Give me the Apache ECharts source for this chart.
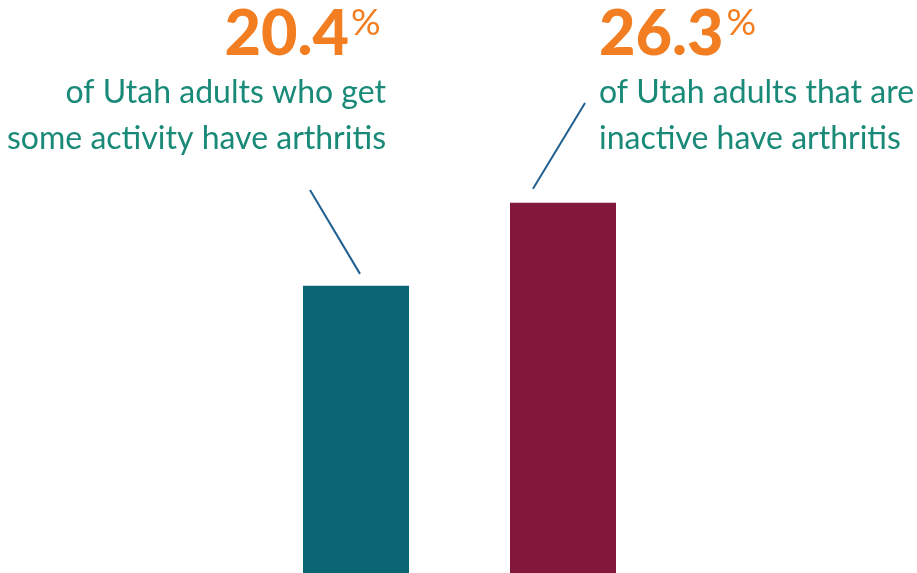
<!DOCTYPE html>
<html><head><meta charset="utf-8">
<script src="https://cdn.jsdelivr.net/npm/echarts@6/dist/echarts.min.js"></script>
<style>html,body{margin:0;padding:0;background:#fff}#c{width:917px;height:573px}</style>
</head><body><div id="c"></div>
<script>
const categories = ['Some activity', 'Inactive'];
const values = [20.4, 26.3];
const valueLabels = ['20.4', '26.3'];
const descriptions = [
  ['of Utah adults who get', 'some activity have arthritis'],
  ['of Utah adults that are', 'inactive have arthritis']
];
const barColors = ['#0b6674', '#83163b'];

const chart = echarts.init(document.getElementById('c'), null, {renderer: 'canvas'});
chart.setOption({
  animation: false,
  grid: {left: 252.5, width: 207 * 2, top: 10, bottom: 0},
  xAxis: {type: 'category', data: categories, show: false},
  yAxis: {type: 'value', min: 0, max: 40, show: false},
  series: [{
    type: 'bar', barWidth: 106,
    data: values.map((v, i) => ({value: v, itemStyle: {color: barColors[i]}}))
  }]
});

const p0 = chart.convertToPixel({seriesIndex: 0}, [0, values[0]]);
const p1 = chart.convertToPixel({seriesIndex: 0}, [1, values[1]]);
const orange = '#f37e21', teal = '#1a8a78', lineC = '#1f5f8f';
const bigFont = {family: 'Lato', weight: 900, size: 63};
const cvs = document.createElement('canvas').getContext('2d');
cvs.font = bigFont.weight + ' ' + bigFont.size + 'px Lato';
const w1 = cvs.measureText(valueLabels[1]).width;
const big = {fontFamily: bigFont.family, fontWeight: bigFont.weight, fontSize: bigFont.size, fill: orange, verticalAlign: 'top'};
const pct = {fontFamily: 'Lato', fontWeight: 400, fontSize: 37, fill: orange, verticalAlign: 'top'};
const desc = {fontFamily: 'Lato', fontWeight: 400, fontSize: 32, fill: teal, verticalAlign: 'top'};
const g = [];
g.push({type: 'text', x: 349, y: 3, style: Object.assign({text: valueLabels[0], align: 'right'}, big)});
g.push({type: 'text', x: 351, y: 5, style: Object.assign({text: '%', align: 'left'}, pct)});
g.push({type: 'text', x: 599, y: 3, style: Object.assign({text: valueLabels[1], align: 'left'}, big)});
g.push({type: 'text', x: 599 + w1 + 3, y: 5, style: Object.assign({text: '%', align: 'left'}, pct)});
descriptions[0].forEach((t, i) => g.push({type: 'text', x: 386, y: 77 + i * 46, style: Object.assign({text: t, align: 'right'}, desc)}));
descriptions[1].forEach((t, i) => g.push({type: 'text', x: 599, y: 77 + i * 46, style: Object.assign({text: t, align: 'left'}, desc)}));
g.push({type: 'line', shape: {x1: 310, y1: 190, x2: p0[0] + 4, y2: p0[1] - 12}, style: {stroke: lineC, lineWidth: 2}});
g.push({type: 'line', shape: {x1: 585, y1: 103, x2: p1[0] - 30, y2: p1[1] - 14}, style: {stroke: lineC, lineWidth: 2}});
chart.setOption({graphic: g});
</script></body></html>
